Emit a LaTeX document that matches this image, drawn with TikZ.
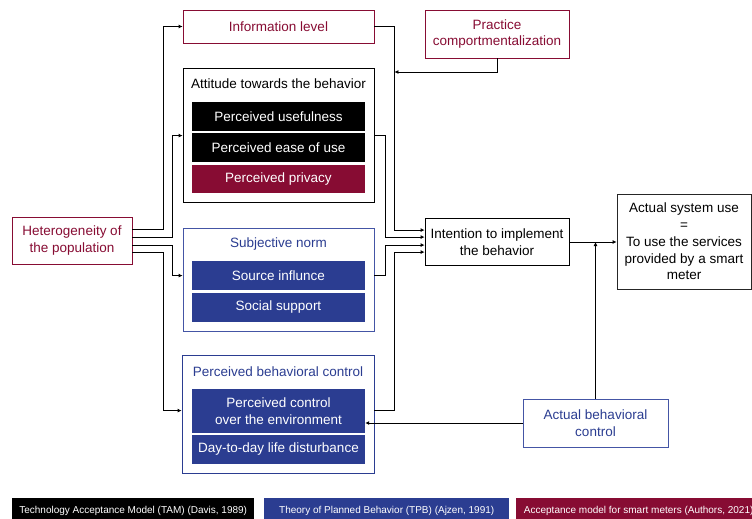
\documentclass[tikz,border=0pt]{standalone}
\usepackage{fontspec}
\setmainfont{Liberation Sans}
\usetikzlibrary{arrows.meta,calc,positioning}
\definecolor{maroon}{HTML}{870C33}
\definecolor{tpbblue}{HTML}{2B3D91}
\definecolor{tpbline}{HTML}{4455A5}
\tikzset{
  txt/.style={font=\fontsize{13.5}{16.8}\selectfont, align=center, inner sep=0pt},
  outerbox/.style={draw, line width=0.8pt, minimum width=#1, inner sep=0pt},
  subbox/.style={txt, text=white, minimum width=173pt, minimum height=29pt},
  conn/.style={line width=0.8pt, -{Latex[length=4pt,width=4pt]}},
  legbox/.style={font=\fontsize{10}{12}\selectfont, text=white, inner sep=0pt, minimum height=26pt, anchor=north west}
}
\begin{document}
\begin{tikzpicture}[x=1pt,y=-1pt]
\clip (0,0) rectangle (752,519);
\fill[white] (0,0) rectangle (752,519);
% boxes
\node[outerbox=191pt, txt, draw=maroon, text=maroon, minimum height=33pt] (info) at (278.5,26.5) {Information level};
\node[outerbox=144pt, txt, draw=maroon, text=maroon, minimum height=48pt] (practice) at (497,34) {Practice\\comportmentalization};
\node[outerbox=191pt, minimum height=134pt] (att) at (278.5,135) {};
\node[txt] (atttitle) at (278.5,84) {Attitude towards the behavior};
\node[subbox, fill=black] (pu) at (278.5,116.5) {Perceived usefulness};
\node[subbox, fill=black] (pe) at (278.5,147.5) {Perceived ease of use};
\node[subbox, fill=maroon, minimum height=28pt] (pp) at (278.5,179) {Perceived privacy};
\node[outerbox=120pt, txt, draw=maroon, text=maroon, minimum height=47pt] (het) at (72,240.5) {Heterogeneity of\\the population};
\node[outerbox=191pt, draw=tpbline, minimum height=103pt] (sn) at (278.5,279.5) {};
\node[txt, text=tpbblue] (sntitle) at (278.5,244) {Subjective norm};
\node[subbox, fill=tpbblue] (si) at (278.5,275.5) {Source influnce};
\node[subbox, fill=tpbblue] (ss) at (278.5,307.5) {Social support};
\node[outerbox=192pt, draw=tpbblue, minimum height=118pt] (pbc) at (278,414) {};
\node[txt, text=tpbblue] (pbctitle) at (278,372) {Perceived behavioral control};
\node[subbox, fill=tpbblue, minimum height=44pt] (pc) at (278.5,411) {Perceived control\\over the environment};
\node[subbox, fill=tpbblue] (dd) at (278.5,449.5) {Day-to-day life disturbance};
\node[outerbox=144pt, txt, minimum height=47pt] (intn) at (497,242) {Intention to implement\\the behavior};
\node[outerbox=134pt, txt, draw=black!85, minimum height=95pt] (asu) at (684,241.5) {Actual system use\\=\\To use the services\\provided by a smart\\meter};
\node[outerbox=145pt, txt, draw=tpbline, text=tpbblue, minimum height=48pt] (abc) at (595.5,423) {Actual behavioral\\control};
% legend
\node[legbox, fill=black, minimum width=242pt] (leg1) at (12,498) {Technology Acceptance Model (TAM) (Davis, 1989)};
\node[legbox, fill=tpbblue, minimum width=245pt] (leg2) at (264,498) {Theory of Planned Behavior (TPB) (Ajzen, 1991)};
\node[legbox, fill=maroon, minimum width=245pt] (leg3) at (516,498) {Acceptance model for smart meters (Authors, 2021)};
% connectors from heterogeneity
\draw[conn] ($(het.north east)+(0,13)$) -- ++(31,0) |- (info.west);
\draw[conn] ($(het.north east)+(0,21)$) -- ++(40,0) |- ($(att.north west)+(0,68)$);
\draw[conn] ($(het.north east)+(0,29)$) -- ++(40,0) |- ($(sn.north west)+(0,48)$);
\draw[conn] ($(het.north east)+(0,36)$) -- ++(31,0) |- ($(pbc.north west)+(0,56)$);
% to intention
\draw[conn] (info.east) -- ++(20,0) |- ($(intn.north west)+(0,12)$);
\draw[conn] ($(att.north east)+(0,68)$) -- ++(11,0) |- ($(intn.north west)+(0,19)$);
\draw[conn] ($(sn.north east)+(0,48)$) -- ++(11,0) |- ($(intn.north west)+(0,27)$);
\draw[conn] ($(pbc.north east)+(0,56)$) -- ++(20,0) |- ($(intn.north west)+(0,34)$);
\coordinate (jn) at ($(info.east)+(20,45.5)$);
\draw[conn] (practice.south) |- (jn);
\draw[conn] (intn.east) -- (intn.east -| asu.west);
\draw[conn] (abc.north) -- (abc.north |- intn.east);
\draw[conn] (abc.west) -- (abc.west -| pc.east);
\end{tikzpicture}
\end{document}
